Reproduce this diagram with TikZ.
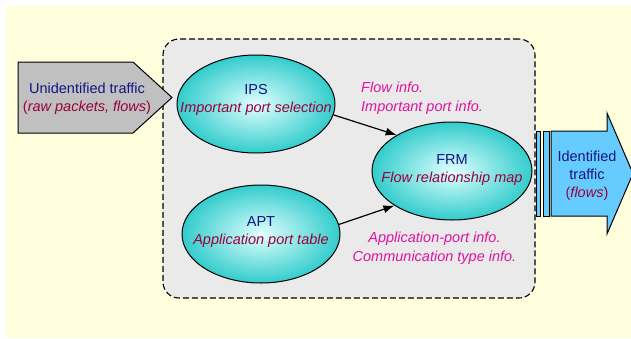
\documentclass[tikz,border=0pt]{standalone}
\usepackage{fontspec}
\setmainfont{Liberation Sans}
\usepackage{xcolor}
\usetikzlibrary{arrows.meta,shapes.geometric}

\definecolor{bgyellow}{RGB}{255,255,221}
\definecolor{boxgray}{RGB}{234,234,234}
\definecolor{arrowgray}{RGB}{192,192,192}
\definecolor{arrowblue}{RGB}{102,204,255}
\definecolor{cyandark}{RGB}{51,204,204}
\definecolor{cyanlight}{RGB}{225,255,255}
\definecolor{navytext}{RGB}{20,20,130}
\definecolor{redtext}{RGB}{153,0,60}
\definecolor{pinktext}{RGB}{220,20,160}

\begin{document}
\begin{tikzpicture}[
  x=1pt,y=-1pt,
  font=\fontsize{14.5}{18}\selectfont,
  frame/.style={draw,fill=boxgray,line width=1.1pt,dash pattern=on 6pt off 3pt,rounded corners=16pt,minimum width=372,minimum height=259,inner sep=0pt},
  blob/.style={ellipse,draw,line width=1pt,shading=radial,inner color=cyanlight,outer color=cyandark,minimum width=158,minimum height=98,inner sep=0pt},
  inarrow/.style={draw,fill=arrowgray,line width=1pt,line join=miter},
  outarrow/.style={draw,fill=arrowblue,line width=1pt,line join=miter},
  modlabel/.style={text=navytext,align=center,inner sep=0pt},
  note/.style={text=pinktext,font=\fontsize{14.5}{18.5}\selectfont\itshape,inner sep=0pt},
  map/.style={-{Latex[length=11pt,width=8pt]},line width=1.2pt}
]
\useasboundingbox (0,0) rectangle (631,338);
\fill[bgyellow] (6,6) rectangle (631,338);

%%%%%%%%%%%%%%%%%%%%%%%%%%%%%%%%%%%%%%%%%%%%%%%%%%%%
% Classifier box
%%%%%%%%%%%%%%%%%%%%%%%%%%%%%%%%%%%%%%%%%%%%%%%%%%%%
\node[frame] (core) at (349,168.5) {};

%%%%%%%%%%%%%%%%%%%%%%%%%%%%%%%%%%%%%%%%%%%%%%%%%%%%
% Input: unidentified traffic
%%%%%%%%%%%%%%%%%%%%%%%%%%%%%%%%%%%%%%%%%%%%%%%%%%%%
\draw[inarrow] (18,62) -- (133,62) -- (172,97.5) -- (133,133) -- (18,133) -- cycle;
\node[modlabel] (src) at (87,99) {Unidentified traffic\\{\color{redtext}(\textit{raw packets, flows})}};

%%%%%%%%%%%%%%%%%%%%%%%%%%%%%%%%%%%%%%%%%%%%%%%%%%%%
% Modules
%%%%%%%%%%%%%%%%%%%%%%%%%%%%%%%%%%%%%%%%%%%%%%%%%%%%
\node[blob] (IPS) at (256,104) {};
\node[modlabel] (IPSlbl) at (256,99.5) {IPS\\\textcolor{redtext}{\textit{Important port selection}}};

\node[blob] (APT) at (261,234) {};
\node[modlabel] (APTlbl) at (261,232) {APT\\\textcolor{redtext}{\textit{Application port table}}};

\node[blob,minimum width=160] (FRM) at (452,171) {};
\node[modlabel] (FRMlbl) at (452,170) {FRM\\\textcolor{redtext}{\textit{Flow relationship map}}};

\draw[map] (IPS.-8) -- (FRM.147);
\draw[map] (APT.7) -- (FRM.211);

\node[note,anchor=west,align=left] (ipsinfo) at (361,98) {Flow info.\\Important port info.};
\node[note,align=center] (aptinfo) at (434.5,248) {Application-port info.\\Communication type info.};

%%%%%%%%%%%%%%%%%%%%%%%%%%%%%%%%%%%%%%%%%%%%%%%%%%%%
% Output: identified traffic
%%%%%%%%%%%%%%%%%%%%%%%%%%%%%%%%%%%%%%%%%%%%%%%%%%%%
\draw[outarrow] (536,131) rectangle (540,216);
\draw[outarrow] (543,131) rectangle (549,216);
\draw[outarrow] (551,131) -- (607,131) -- (607,113) -- (633,173.5) -- (607,234) -- (607,216) -- (551,216) -- cycle;
\node[modlabel] (dst) at (587,176) {Identified\\traffic\\{\color{redtext}(\textit{flows})}};

\end{tikzpicture}
\end{document}
